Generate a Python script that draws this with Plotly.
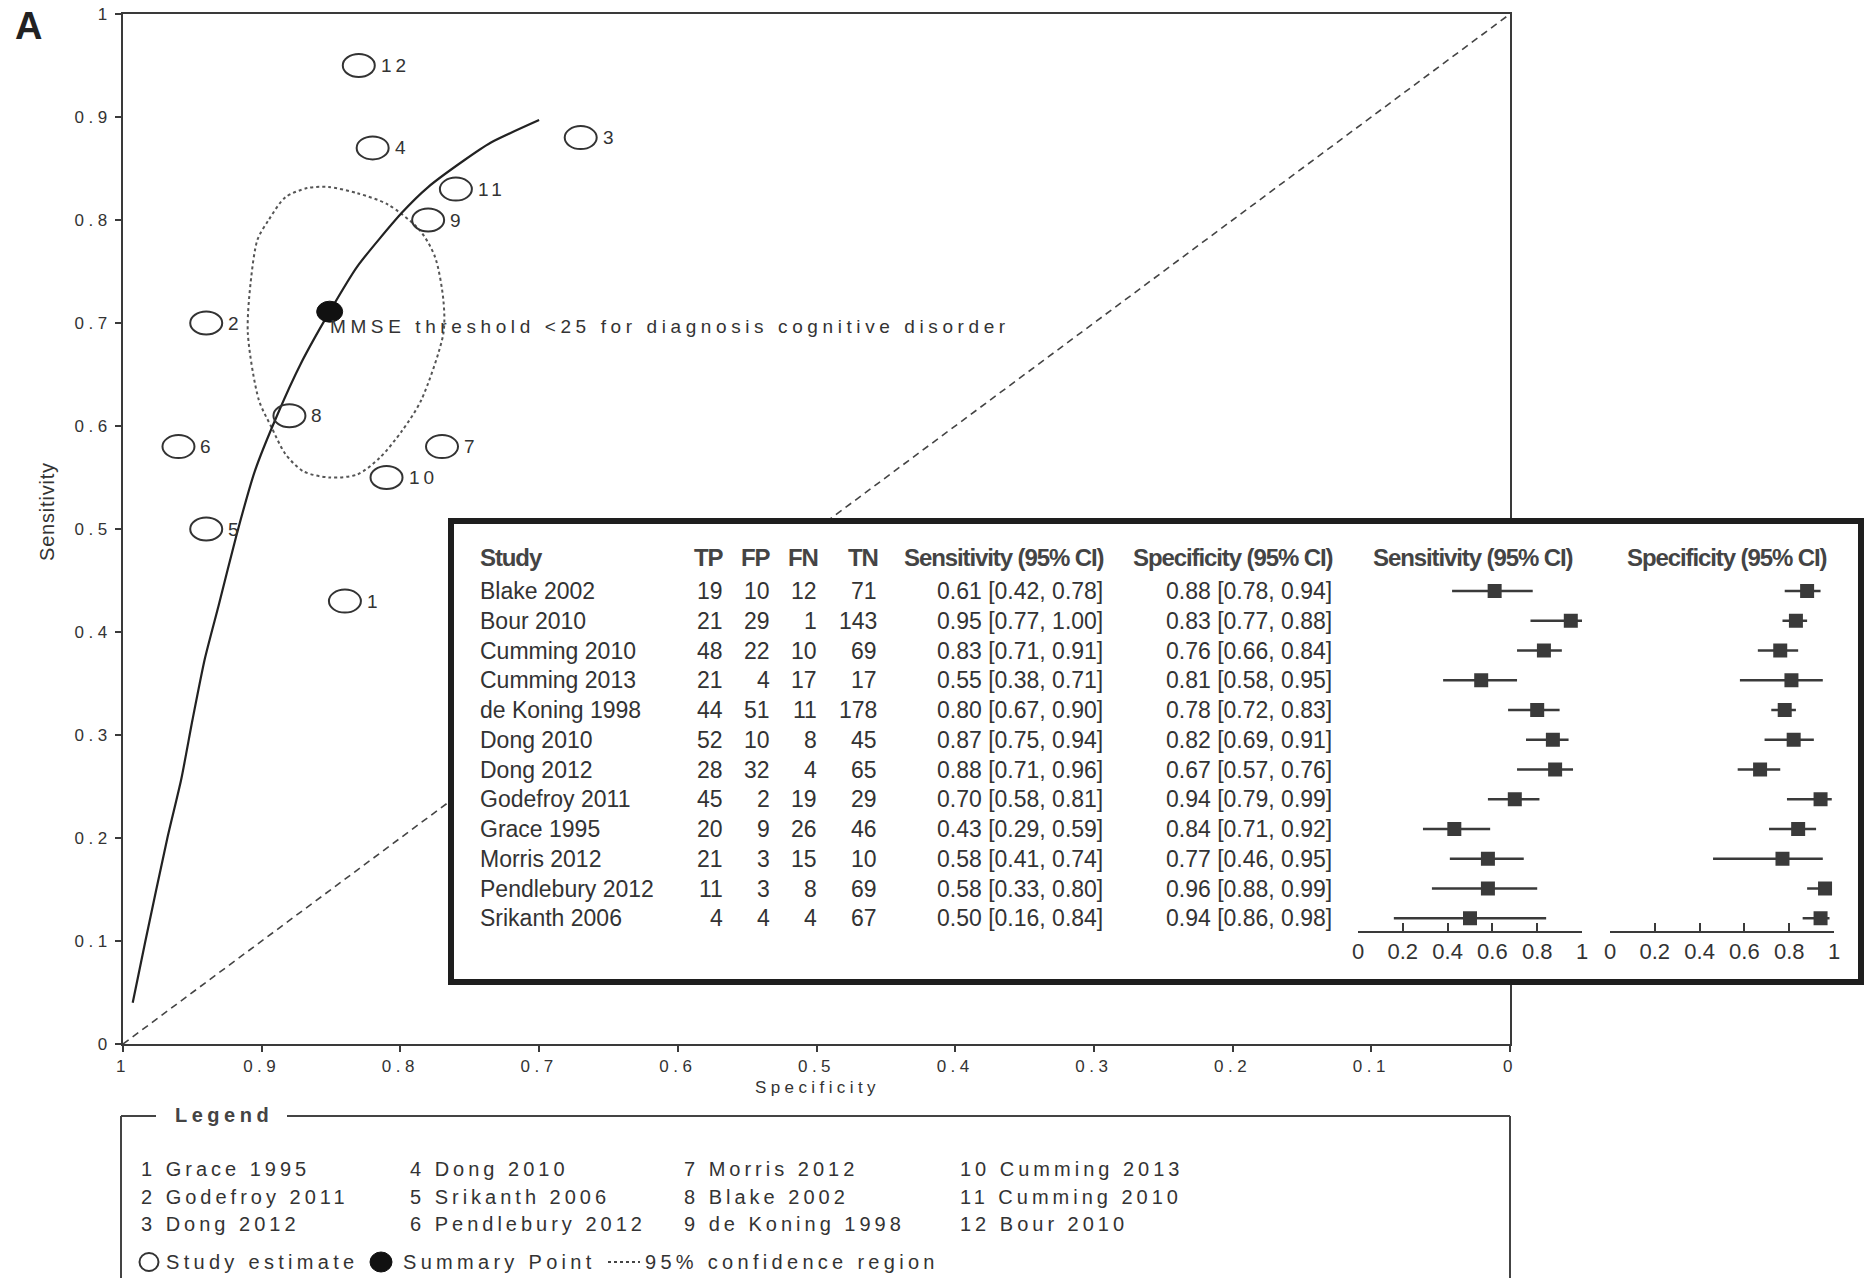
import plotly.graph_objects as go

W, H = 1867, 1279
FONT = "Liberation Sans, Arial, sans-serif"
INK = "#333333"

# ---------------- data ----------------
studies = ["Blake 2002", "Bour 2010", "Cumming 2010", "Cumming 2013", "de Koning 1998",
           "Dong 2010", "Dong 2012", "Godefroy 2011", "Grace 1995", "Morris 2012",
           "Pendlebury 2012", "Srikanth 2006"]
tp = [19, 21, 48, 21, 44, 52, 28, 45, 20, 21, 11, 4]
fp = [10, 29, 22, 4, 51, 10, 32, 2, 9, 3, 3, 4]
fn = [12, 1, 10, 17, 11, 8, 4, 19, 26, 15, 8, 4]
tn = [71, 143, 69, 17, 178, 45, 65, 29, 46, 10, 69, 67]
sens = [0.61, 0.95, 0.83, 0.55, 0.80, 0.87, 0.88, 0.70, 0.43, 0.58, 0.58, 0.50]
sens_lo = [0.42, 0.77, 0.71, 0.38, 0.67, 0.75, 0.71, 0.58, 0.29, 0.41, 0.33, 0.16]
sens_hi = [0.78, 1.00, 0.91, 0.71, 0.90, 0.94, 0.96, 0.81, 0.59, 0.74, 0.80, 0.84]
spec = [0.88, 0.83, 0.76, 0.81, 0.78, 0.82, 0.67, 0.94, 0.84, 0.77, 0.96, 0.94]
spec_lo = [0.78, 0.77, 0.66, 0.58, 0.72, 0.69, 0.57, 0.79, 0.71, 0.46, 0.88, 0.86]
spec_hi = [0.94, 0.88, 0.84, 0.95, 0.83, 0.91, 0.76, 0.99, 0.92, 0.95, 0.99, 0.98]
roc_number = [8, 12, 11, 10, 9, 4, 3, 2, 1, 7, 6, 5]

summary_spec = 0.851
summary_sens = 0.711

sroc_spec = [0.993, 0.984, 0.968, 0.958, 0.950, 0.941, 0.931, 0.918, 0.905, 0.889,
             0.872, 0.851, 0.831, 0.799, 0.780, 0.754, 0.735, 0.700]
sroc_sens = [0.040, 0.099, 0.200, 0.257, 0.314, 0.374, 0.426, 0.495, 0.556, 0.610,
             0.660, 0.711, 0.755, 0.807, 0.832, 0.858, 0.875, 0.897]

ci_spec = [0.852, 0.831, 0.809, 0.786, 0.775, 0.769, 0.769, 0.785, 0.799, 0.815, 0.831,
           0.851, 0.870, 0.883, 0.893, 0.902, 0.910, 0.908, 0.903, 0.895, 0.883, 0.867, 0.852]
ci_sens = [0.832, 0.826, 0.815, 0.790, 0.764, 0.722, 0.690, 0.625, 0.595, 0.569, 0.553,
           0.550, 0.556, 0.573, 0.599, 0.625, 0.690, 0.739, 0.781, 0.800, 0.822, 0.831, 0.832]

chance_spec = [1, 0]
chance_sens = [0, 1]

roc_ticks = [0, 0.1, 0.2, 0.3, 0.4, 0.5, 0.6, 0.7, 0.8, 0.9, 1]
roc_ticktext = ["0", "0.1", "0.2", "0.3", "0.4", "0.5", "0.6", "0.7", "0.8", "0.9", "1"]
forest_ticks = [0, 0.2, 0.4, 0.6, 0.8, 1]
forest_ticktext = ["0", "0.2", "0.4", "0.6", "0.8", "1"]

rows = list(range(len(studies)))


def px_x(px):
    return px / W


def px_y(py):
    return 1 - py / H


def spaced(t, s):
    return f'<span style="letter-spacing:{s}px">{t}</span>'


fig = go.Figure()

# ---------------- main SROC plot ----------------
fig.add_trace(go.Scatter(x=chance_spec, y=chance_sens, mode="lines",
                         line=dict(color="#444", width=1.6, dash="7px,5px"),
                         hoverinfo="skip", showlegend=False))
fig.add_trace(go.Scatter(x=ci_spec, y=ci_sens, mode="lines",
                         line=dict(color="#555", width=2, dash="dot", shape="spline", smoothing=0.8),
                         hoverinfo="skip", showlegend=False))
fig.add_trace(go.Scatter(x=sroc_spec, y=sroc_sens, mode="lines",
                         line=dict(color="#222", width=2.2, shape="spline", smoothing=0.6),
                         hoverinfo="skip", showlegend=False))
fig.add_trace(go.Scatter(x=spec, y=sens, mode="markers", text=studies,
                         marker=dict(size=28, color="rgba(0,0,0,0)"),
                         showlegend=False))

# ---------------- inset box (white panel) ----------------
fig.add_trace(go.Scatter(x=[0, 1, 1, 0, 0], y=[0, 0, 1, 1, 0], fill="toself",
                         fillcolor="white", mode="none", xaxis="x2", yaxis="y2",
                         hoverinfo="skip", showlegend=False))

# ---------------- forest plots ----------------
FC = "#3a3a3a"
fig.add_trace(go.Scatter(
    x=sens, y=rows, mode="markers", xaxis="x3", yaxis="y3",
    marker=dict(symbol="square", size=14, color=FC),
    error_x=dict(type="data", symmetric=False,
                 array=[h - s for s, h in zip(sens, sens_hi)],
                 arrayminus=[s - l for s, l in zip(sens, sens_lo)],
                 thickness=2.5, width=0, color=FC),
    showlegend=False))
fig.add_trace(go.Scatter(
    x=spec, y=rows, mode="markers", xaxis="x4", yaxis="y3",
    marker=dict(symbol="square", size=14, color=FC),
    error_x=dict(type="data", symmetric=False,
                 array=[h - s for s, h in zip(spec, spec_hi)],
                 arrayminus=[s - l for s, l in zip(spec, spec_lo)],
                 thickness=2.5, width=0, color=FC),
    showlegend=False))

# ---------------- axes ----------------
roc_axis = dict(showline=True, mirror=True, linecolor="#3a3a3a", linewidth=2,
                ticks="outside", ticklen=6, tickwidth=2, tickcolor="#3a3a3a",
                showgrid=False, zeroline=False, tickangle=0, automargin=False,
                tickvals=roc_ticks, ticktext=[spaced(t, 4.5) for t in roc_ticktext],
                tickfont=dict(family=FONT, size=17, color=INK))
forest_axis = dict(showline=True, linecolor=FC, linewidth=2, ticks="inside",
                   ticklen=8, tickwidth=2, tickcolor=FC, showgrid=False, zeroline=False,
                   range=[0, 1], tickangle=0, automargin=False,
                   tickvals=forest_ticks, ticktext=forest_ticktext,
                   tickfont=dict(family=FONT, size=22, color=INK))
box_axis = dict(showline=True, mirror=True, linecolor="#1e1e1e", linewidth=6, automargin=False,
                showticklabels=False, ticks="", showgrid=False, zeroline=False, range=[0, 1])

row_top_px, row_step = 591, 29.75
y3_top_px, y3_bot_px = 540, 931

fig.update_layout(
    width=W, height=H, autosize=False,
    margin=dict(l=0, r=0, t=0, b=0, autoexpand=False),
    paper_bgcolor="white", plot_bgcolor="white", showlegend=False,
    xaxis=dict(domain=[px_x(123), px_x(1510)], range=[1, 0], anchor="y", **roc_axis),
    yaxis=dict(domain=[px_y(1044), px_y(14)], range=[0, 1], anchor="x", **roc_axis),
    xaxis2=dict(domain=[px_x(454), px_x(1858)], anchor="y2", **box_axis),
    yaxis2=dict(domain=[px_y(979), px_y(524)], anchor="x2", **box_axis),
    xaxis3=dict(domain=[px_x(1358), px_x(1582)], anchor="y3", **forest_axis),
    xaxis4=dict(domain=[px_x(1610), px_x(1834)], anchor="y3", **forest_axis),
    yaxis3=dict(domain=[px_y(y3_bot_px), px_y(y3_top_px)], anchor="x3", visible=False,
                range=[(y3_bot_px - row_top_px) / row_step, (y3_top_px - row_top_px) / row_step]),
)

shapes = []
annotations = []

# study ellipses + labels
for s, p, n in zip(sens, spec, roc_number):
    shapes.append(dict(type="circle", xref="x", yref="y", xsizemode="pixel", ysizemode="pixel",
                       xanchor=p, yanchor=s, x0=-16, x1=16, y0=-11.5, y1=11.5,
                       line=dict(color="#333", width=2), fillcolor="rgba(0,0,0,0)"))
    annotations.append(dict(x=p, y=s, xref="x", yref="y", text=spaced(str(n), 4),
                            showarrow=False, xanchor="left", yanchor="middle", xshift=20,
                            font=dict(family=FONT, size=19, color=INK)))
# summary point
shapes.append(dict(type="circle", xref="x", yref="y", xsizemode="pixel", ysizemode="pixel",
                   xanchor=summary_spec, yanchor=summary_sens, x0=-13, x1=13, y0=-10.5, y1=10.5,
                   line=dict(color="#111", width=1), fillcolor="#111"))
annotations.append(dict(x=summary_spec, y=summary_sens, xref="x", yref="y",
                        text=spaced("MMSE threshold &lt;25 for diagnosis cognitive disorder", 4.6),
                        showarrow=False, xanchor="left", yanchor="middle", xshift=-2, yshift=-15,
                        font=dict(family=FONT, size=19, color=INK)))

# panel letter and axis titles
annotations.append(dict(x=px_x(13), y=px_y(26), xref="paper", yref="paper", text="<b>A</b>",
                        showarrow=False, xanchor="left", yanchor="middle",
                        font=dict(family=FONT, size=38, color="#222")))
annotations.append(dict(x=px_x(47), y=px_y(512), xref="paper", yref="paper",
                        text=spaced("Sensitivity", 0.8), textangle=-90, showarrow=False,
                        xanchor="center", yanchor="middle",
                        font=dict(family=FONT, size=20, color=INK)))
annotations.append(dict(x=px_x(817), y=px_y(1087), xref="paper", yref="paper",
                        text=spaced("Specificity", 4.4), showarrow=False,
                        xanchor="center", yanchor="middle",
                        font=dict(family=FONT, size=17, color=INK)))

# ---------------- table ----------------
hdr_font = dict(family=FONT, size=24, color="#444")
row_font = dict(family=FONT, size=23, color=INK)
hdr_y = (557 - row_top_px) / row_step


def tab(text, px, y, anchor, font):
    annotations.append(dict(x=px_x(px), y=y, xref="paper", yref="y3", text=text,
                            showarrow=False, xanchor=anchor, yanchor="middle", font=font))


def hdr(t):
    return "<b>" + spaced(t, -1.1) + "</b>"


tab(hdr("Study"), 478, hdr_y, "left", hdr_font)
tab(hdr("TP"), 726, hdr_y, "right", hdr_font)
tab(hdr("FP"), 773, hdr_y, "right", hdr_font)
tab(hdr("FN"), 820, hdr_y, "right", hdr_font)
tab(hdr("TN"), 880, hdr_y, "right", hdr_font)
tab(hdr("Sensitivity (95% CI)"), 1106, hdr_y, "right", hdr_font)
tab(hdr("Specificity (95% CI)"), 1335, hdr_y, "right", hdr_font)
tab(hdr("Sensitivity (95% CI)"), 1473, hdr_y, "center", hdr_font)
tab(hdr("Specificity (95% CI)"), 1727, hdr_y, "center", hdr_font)

for i in rows:
    tab(studies[i], 478, i, "left", row_font)
    tab(str(tp[i]), 725, i, "right", row_font)
    tab(str(fp[i]), 772, i, "right", row_font)
    tab(str(fn[i]), 819, i, "right", row_font)
    tab(str(tn[i]), 879, i, "right", row_font)
    tab(f"{sens[i]:.2f} [{sens_lo[i]:.2f}, {sens_hi[i]:.2f}]", 1105, i, "right", row_font)
    tab(f"{spec[i]:.2f} [{spec_lo[i]:.2f}, {spec_hi[i]:.2f}]", 1334, i, "right", row_font)

# ---------------- legend box ----------------
LC = "#444"
leg_top = 1116
for (xa, xb) in [(121, 156), (287, 1510)]:
    shapes.append(dict(type="line", xref="paper", yref="paper", x0=px_x(xa), x1=px_x(xb),
                       y0=px_y(leg_top), y1=px_y(leg_top), line=dict(color=LC, width=2)))
for xv in [121, 1510]:
    shapes.append(dict(type="line", xref="paper", yref="paper", x0=px_x(xv), x1=px_x(xv),
                       y0=px_y(leg_top), y1=px_y(1278), line=dict(color=LC, width=2)))
annotations.append(dict(x=px_x(173), y=px_y(1115), xref="paper", yref="paper",
                        text="<b>" + spaced("Legend", 4.5) + "</b>", showarrow=False,
                        xanchor="left", yanchor="middle", font=dict(family=FONT, size=20, color=LC)))

legend_order = sorted(zip(roc_number, studies))
col_x = [139, 408, 682, 958]
row_y = [1169, 1197, 1224]
leg_font = dict(family=FONT, size=20, color=INK)
for k, (n, name) in enumerate(legend_order):
    c, r = divmod(k, 3)
    annotations.append(dict(x=px_x(col_x[c]), y=px_y(row_y[r]), xref="paper", yref="paper",
                            text=spaced(f"{n} {name}", 4), showarrow=False,
                            xanchor="left", yanchor="middle", font=leg_font))

key_y = 1262
shapes.append(dict(type="circle", xref="paper", yref="paper", xsizemode="pixel", ysizemode="pixel",
                   xanchor=px_x(149), yanchor=px_y(key_y), x0=-9.5, x1=9.5, y0=-9, y1=9,
                   line=dict(color="#333", width=2), fillcolor="rgba(0,0,0,0)"))
shapes.append(dict(type="circle", xref="paper", yref="paper", xsizemode="pixel", ysizemode="pixel",
                   xanchor=px_x(381), yanchor=px_y(key_y), x0=-11, x1=11, y0=-10, y1=10,
                   line=dict(color="#111", width=1), fillcolor="#111"))
shapes.append(dict(type="line", xref="paper", yref="paper", x0=px_x(608), x1=px_x(640),
                   y0=px_y(key_y), y1=px_y(key_y), line=dict(color="#444", width=2, dash="dot")))
for txt, xp in [("Study estimate", 164), ("Summary Point", 401), ("95% confidence region", 643)]:
    annotations.append(dict(x=px_x(xp), y=px_y(key_y), xref="paper", yref="paper",
                            text=spaced(txt, 4.3), showarrow=False, xanchor="left",
                            yanchor="middle", font=leg_font))

fig.update_layout(shapes=shapes, annotations=annotations)
fig.write_html("out.html", config={"displayModeBar": False},
               post_script="document.documentElement.style.margin='0';"
                           "document.documentElement.style.overflow='hidden';"
                           "document.body.style.margin='0';document.body.style.overflow='hidden';")
